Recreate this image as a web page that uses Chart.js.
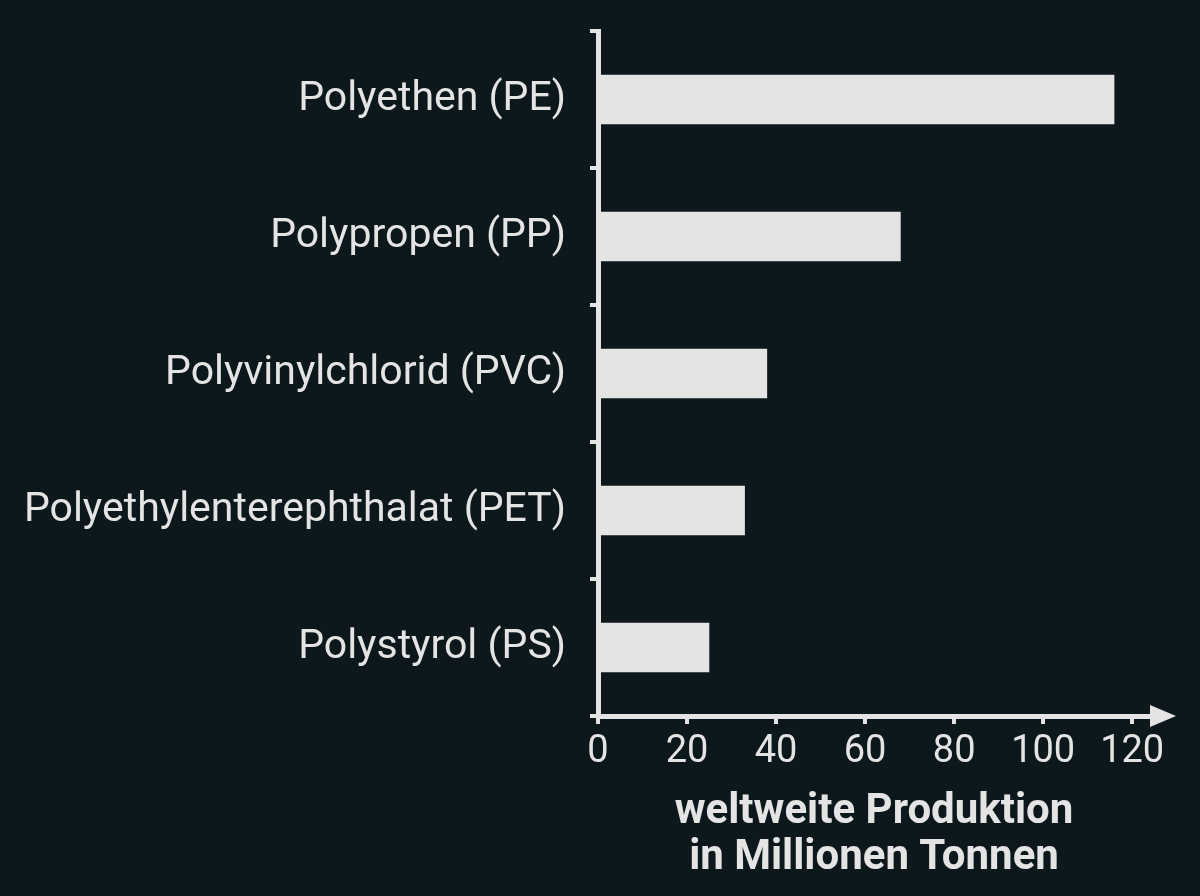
<!DOCTYPE html>
<html><head><meta charset="utf-8">
<script src="https://cdn.jsdelivr.net/npm/chart.js@4"></script>
<style>
html,body{margin:0;background:#0c181c;}
#wrap{width:1200px;height:896px;}
</style></head>
<body><div id="wrap"><canvas id="c" width="1200" height="896"></canvas></div>
<script>
const categories = ['Polyethen (PE)', 'Polypropen (PP)', 'Polyvinylchlorid (PVC)', 'Polyethylenterephthalat (PET)', 'Polystyrol (PS)'];
const production = [116, 68, 38, 33, 25];
const xTickLabels = [0, 20, 40, 60, 80, 100, 120];
const xTitle = ['weltweite Produktion', 'in Millionen Tonnen'];

const fg = '#e4e4e4';

// arrow at the end of the x axis
const arrowPlugin = {
  id: 'arrow',
  afterDraw(chart) {
    const c = chart.ctx, a = chart.chartArea;
    const y = chart.scales.x.top;
    c.save();
    c.fillStyle = fg;
    c.beginPath();
    c.moveTo(a.right + 26, y);
    c.lineTo(a.right, y - 11);
    c.lineTo(a.right, y + 11);
    c.closePath();
    c.fill();
    c.restore();
  }
};

new Chart(document.getElementById('c'), {
  type: 'bar',
  data: {
    labels: categories,
    datasets: [{
      data: production,
      backgroundColor: fg,
      barPercentage: 0.36,
      categoryPercentage: 1
    }]
  },
  plugins: [arrowPlugin],
  options: {
    indexAxis: 'y',
    responsive: false,
    animation: false,
    layout: { padding: { left: 10, right: 50, top: 31, bottom: 10 } },
    plugins: { legend: { display: false }, tooltip: { enabled: false } },
    scales: {
      x: {
        min: 0, max: 124,
        afterBuildTicks(s) { s.ticks = xTickLabels.map(v => ({ value: v })); },
        border: { color: fg, width: 5 },
        grid: { drawOnChartArea: false, drawTicks: true, tickLength: 8, color: fg, lineWidth: 4 },
        ticks: { color: fg, font: { family: 'Roboto', size: 38 }, padding: 6 },
        title: { display: true, text: xTitle, color: fg, font: { family: 'Roboto', size: 42, weight: 'bold', lineHeight: 1.1 }, padding: { top: 8 } }
      },
      y: {
        afterFit(s) { s.width = 588; s.paddingTop = 0; s.paddingBottom = 0; },
        border: { color: fg, width: 5 },
        grid: { drawOnChartArea: false, drawTicks: true, tickLength: 8, color: fg, lineWidth: 4 },
        ticks: { color: fg, font: { family: 'Roboto', size: 41 }, padding: 24 }
      }
    }
  }
});
</script>
</body></html>
